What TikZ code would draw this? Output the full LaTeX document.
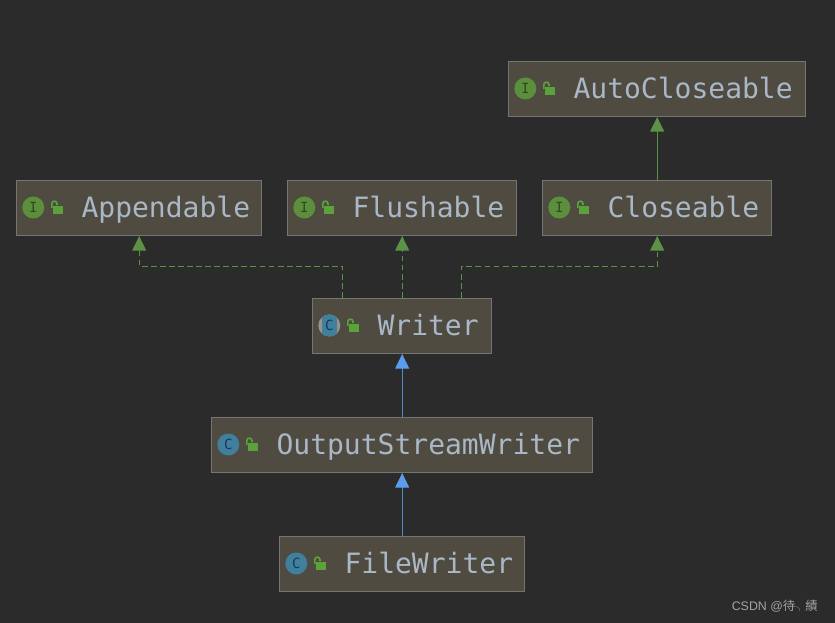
\documentclass[tikz,border=0pt]{standalone}
\usepackage{fontspec}
\setmonofont{DejaVu Sans Mono}
\setsansfont{Liberation Sans}
\newfontfamily\cjkfont{Noto Sans CJK SC}
\usetikzlibrary{arrows.meta,calc}
\definecolor{bgc}{HTML}{2B2B2B}
\definecolor{boxfill}{HTML}{4F4B41}
\definecolor{boxline}{HTML}{757572}
\definecolor{txt}{HTML}{A9B7C6}
\definecolor{igreen}{HTML}{5C8F3C}
\definecolor{idark}{HTML}{2F4A1E}
\definecolor{cblue}{HTML}{40809C}
\definecolor{cdark}{HTML}{17375E}
\definecolor{lockg}{HTML}{5AA23A}
\definecolor{arrg}{HTML}{5C9148}
\definecolor{arrb}{HTML}{5C9CEC}
\definecolor{lineb}{HTML}{4F8AC9}
\definecolor{wm}{HTML}{A3A3A3}
\definecolor{absgrey}{HTML}{96938C}
\tikzset{
  classbox/.style={draw=boxline,line width=1pt,fill=boxfill,inner sep=0pt,anchor=north west},
  label/.style={font=\ttfamily\fontsize{21}{21}\selectfont,text=txt,anchor=base west,inner sep=0pt},
  iconI/.style={circle,fill=igreen,minimum size=16.5pt,inner sep=0pt,text=idark,font=\ttfamily\fontsize{10.5}{10.5}\selectfont},
  iconC/.style={circle,fill=cblue,minimum size=16.5pt,inner sep=0pt,text=cdark,font=\ttfamily\fontsize{10.5}{10.5}\selectfont},
  iconAbs/.style={circle,fill=absgrey,minimum size=16.5pt,inner sep=0pt},
  letterC/.style={inner sep=0pt,text=cdark,font=\ttfamily\fontsize{10.5}{10.5}\selectfont},
  implarrow/.style={draw=arrg,line width=0.8pt,dash pattern=on 4.4pt off 2.4pt,-{Triangle[length=11pt,width=10.5pt,fill=arrg]}},
  extgreen/.style={draw=arrg,line width=0.8pt,-{Triangle[length=11pt,width=10.5pt,fill=arrg]}},
  extblue/.style={draw=lineb,line width=0.8pt,-{Triangle[length=11pt,width=10.5pt,fill=arrb,color=arrb]}},
}
% \cbox{name}{x1}{y1}{x2}{y2}{icon style}{letter}{text}
\newcommand{\cbox}[8]{%
  \pgfmathsetlengthmacro{\bw}{(#4-#2)*0.75pt}%
  \pgfmathsetlengthmacro{\bh}{(#5-#3)*0.75pt}%
  \node[classbox,minimum width=\bw,minimum height=\bh] (#1) at (#2-0.38,#3-0.3) {};
  \node[#6] (#1icon) at (#2+17.3,#3+27.5) {#7};
  \fill[lockg] (#2+37,#3+25.7) rectangle (#2+47,#3+34);
  \draw[lockg,line width=1.2pt] (#2+35.8,#3+28) -- (#2+35.8,#3+23.7) arc[start angle=180,end angle=360,radius=2.6] -- ++(0,1.5);
  \node[label] (#1text) at (#2+65.3,#3+37.6) {#8};
}
\begin{document}
\begin{tikzpicture}[x=0.75pt,y=-0.75pt]
\path[use as bounding box,fill=bgc] (0,0) rectangle (835,623);
\cbox{ac}{508}{61}{805}{116}{iconI}{I}{AutoCloseable}
\cbox{ap}{16}{180}{261}{235}{iconI}{I}{Appendable}
\cbox{fl}{287}{180}{516}{235}{iconI}{I}{Flushable}
\cbox{cl}{542}{180}{771}{235}{iconI}{I}{Closeable}
\cbox{wr}{312}{298}{491}{353}{iconAbs}{}{Writer}
\cbox{os}{211}{417}{592}{472}{iconC}{C}{OutputStreamWriter}
\cbox{fw}{279}{536}{524}{591}{iconC}{C}{FileWriter}
% abstract marker: blue band across the grey Writer disc
\begin{scope}
  \clip (wricon.center) circle[radius=11];
  \fill[cblue] ([xshift=-5.6pt,yshift=-9pt]wricon.center) rectangle ([xshift=5.6pt,yshift=9pt]wricon.center);
\end{scope}
\node[letterC] (wrletter) at (wricon.center) {C};
% connectors
\draw[extgreen] ([xshift=0.3pt]cl.north) -- ([xshift=0.3pt]ac.south);
\draw[implarrow] ([xshift=-44.3pt]wr.north) -- ++(0,-31.5) -| ([xshift=0.3pt]ap.south);
\draw[implarrow] ([xshift=0.3pt]wr.north) -- ([xshift=0.3pt]fl.south);
\draw[implarrow] ([xshift=44.9pt]wr.north) -- ++(0,-31.5) -| ([xshift=0.3pt]cl.south);
\draw[extblue] ([xshift=0.3pt]os.north) -- ([xshift=0.3pt]wr.south);
\draw[extblue] ([xshift=0.3pt]fw.north) -- ([xshift=0.3pt]os.south);
% watermark
\node[anchor=base west,inner sep=0pt,text=wm,font=\sffamily\fontsize{9.3}{9.3}\selectfont] (mark) at (731.5,610) {CSDN @{\cjkfont 待}{\cjkfont\fontsize{7}{7}\selectfont ╮}\kern0.6pt{\cjkfont 績}};
\end{tikzpicture}
\end{document}
